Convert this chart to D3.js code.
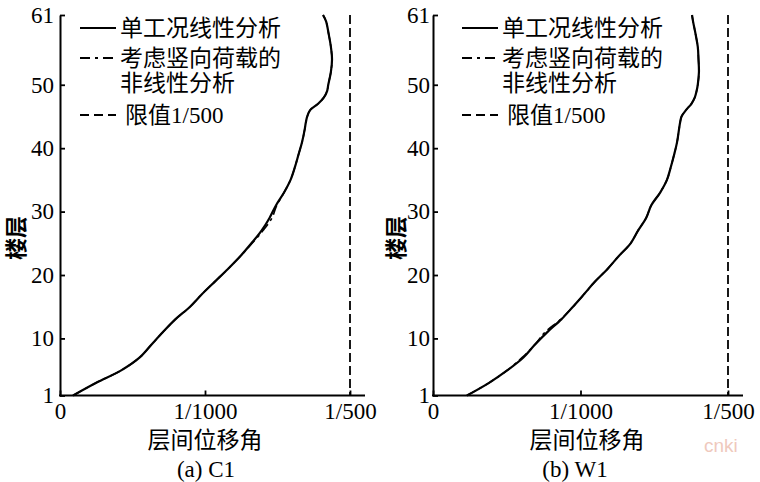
<!DOCTYPE html>
<html>
<head>
<meta charset="utf-8">
<script src="https://cdn.jsdelivr.net/npm/d3@7"></script>
<style>
  html, body { margin: 0; padding: 0; background: #fff; }
  svg { display: block; }
</style>
</head>
<body>
<svg id="chart" width="760" height="482"></svg>
<script>
// ---------- data (drift values in units of 1/1000) ----------
const floors = [1,3,5,7,9,11,13,15,17,19,21,23,25,27,29,31,33,35,37,39,41,43,44,45,46,47,48,49,50,52,54,56,58,60,61];

const c1Linear    = [0.09,0.25,0.425,0.55,0.63,0.71,0.795,0.897,0.98,1.07,1.16,1.245,1.32,1.39,1.445,1.49,1.545,1.59,1.62,1.645,1.67,1.688,1.695,1.705,1.725,1.78,1.82,1.842,1.85,1.868,1.876,1.868,1.853,1.835,1.814];
const c1Nonlinear = [0.09,0.25,0.425,0.55,0.63,0.71,0.795,0.897,0.98,1.07,1.16,1.245,1.325,1.40,1.462,1.495,1.545,1.59,1.62,1.645,1.67,1.688,1.695,1.705,1.725,1.78,1.82,1.842,1.85,1.868,1.876,1.868,1.853,1.835,1.814];

const w1Linear    = [0.23,0.38,0.505,0.613,0.69,0.775,0.87,0.949,1.025,1.10,1.185,1.26,1.34,1.39,1.445,1.48,1.54,1.586,1.612,1.635,1.655,1.668,1.675,1.685,1.715,1.752,1.775,1.787,1.795,1.803,1.80,1.795,1.78,1.763,1.756];
const w1Nonlinear = [0.23,0.38,0.505,0.605,0.69,0.76,0.865,0.949,1.025,1.10,1.185,1.26,1.34,1.39,1.445,1.48,1.54,1.586,1.612,1.635,1.655,1.668,1.675,1.685,1.715,1.752,1.775,1.787,1.795,1.803,1.80,1.795,1.78,1.763,1.756];

const xTickValues = [0, 1, 2];
const xTickLabels = ["0", "1/1000", "1/500"];
const yTickValues = [1, 10, 20, 30, 40, 50, 61];
const limitValue = 2; // 1/500
const legendLabels = ["单工况线性分析", ["考虑竖向荷载的", "非线性分析"], ["限值", "1/500"]];
const panelCaptions = ["(a) C1", "(b) W1"];
const xTitle = "层间位移角";
const yTitle = "楼层";

// ---------- layout ----------
const serif = "'Liberation Serif', 'Times New Roman', serif";
const cjk = "'Noto Sans CJK SC', sans-serif";

const panels = [
  { lin: c1Linear, non: c1Nonlinear, x0: 60,  x2: 350, xEnd: 365, yPad: 6, caption: panelCaptions[0], capX: 206, titleX: 205, yTitleX: 24, legX: 80 },
  { lin: w1Linear, non: w1Nonlinear, x0: 433, x2: 728, xEnd: 743, yPad: 3, caption: panelCaptions[1], capX: 575, titleX: 587, yTitleX: 404, legX: 462 }
];
const yBottom = 395.5, yTop = 15;

const svg = d3.select("#chart");

panels.forEach(p => {
  const g = svg.append("g");
  const x = d3.scaleLinear().domain([0, 2]).range([p.x0, p.x2]);
  const y = d3.scaleLinear().domain([1, 61]).range([yBottom, yTop]);

  // limit line
  g.append("line")
    .attr("x1", x(limitValue)).attr("x2", x(limitValue))
    .attr("y1", y(61)).attr("y2", yBottom)
    .attr("stroke", "#000").attr("stroke-width", 1.8)
    .attr("stroke-dasharray", "9,4");

  const line = d3.line()
    .x((d, i) => x(d))
    .y((d, i) => y(floors[i]))
    .curve(d3.curveCatmullRom.alpha(0.5));

  g.append("path").datum(p.non)
    .attr("d", line).attr("fill", "none")
    .attr("stroke", "#000").attr("stroke-width", 1.6)
    .attr("stroke-dasharray", "10,4,3,4");
  g.append("path").datum(p.lin)
    .attr("d", line).attr("fill", "none")
    .attr("stroke", "#000").attr("stroke-width", 2.2);

  // y axis
  const yAxis = d3.axisLeft(y).tickValues(yTickValues).tickSizeInner(-5).tickSizeOuter(0).tickPadding(p.yPad);
  const ya = g.append("g").attr("transform", `translate(${p.x0},0)`).call(yAxis);
  ya.select(".domain").attr("stroke-width", 2);
  ya.selectAll(".tick line").attr("stroke-width", 1.8);
  ya.selectAll(".tick text").attr("font-family", serif).attr("font-size", 23).attr("fill", "#000");

  // x axis
  const xAxis = d3.axisBottom(x).tickValues(xTickValues).tickFormat((d, i) => xTickLabels[i])
    .tickSizeInner(-5).tickSizeOuter(0).tickPadding(7);
  const xa = g.append("g").attr("transform", `translate(0,${yBottom})`).call(xAxis);
  xa.select(".domain").remove();
  xa.append("line").attr("x1", p.x0 - 1).attr("x2", p.xEnd).attr("y1", 0).attr("y2", 0)
    .attr("stroke", "#000").attr("stroke-width", 2);
  xa.selectAll(".tick line").attr("stroke-width", 1.8);
  xa.selectAll(".tick text").attr("font-family", serif).attr("font-size", 23).attr("fill", "#000");

  // titles
  g.append("text").attr("x", p.titleX).attr("y", 448)
    .attr("text-anchor", "middle").attr("font-family", cjk).attr("font-size", 23).text(xTitle);
  g.append("text").attr("x", p.capX).attr("y", 477)
    .attr("text-anchor", "middle").attr("font-family", serif).attr("font-size", 23).text(p.caption);
  g.append("text").attr("transform", `translate(${p.yTitleX},238) rotate(-90)`)
    .attr("text-anchor", "middle").attr("font-family", cjk).attr("font-size", 22)
    .attr("font-weight", "bold").text(yTitle);

  // legend
  const lg = g.append("g");
  const lx = p.legX, tx = p.legX + 40;
  lg.append("line").attr("x1", lx).attr("x2", lx + 36).attr("y1", 28).attr("y2", 28)
    .attr("stroke", "#000").attr("stroke-width", 1.8);
  lg.append("text").attr("x", tx).attr("y", 36).attr("font-family", cjk).attr("font-size", 23).text(legendLabels[0]);

  lg.append("line").attr("x1", lx).attr("x2", lx + 34).attr("y1", 58).attr("y2", 58)
    .attr("stroke", "#000").attr("stroke-width", 1.8).attr("stroke-dasharray", "10,5,3,5");
  lg.append("text").attr("x", tx).attr("y", 66).attr("font-family", cjk).attr("font-size", 23).text(legendLabels[1][0]);
  lg.append("text").attr("x", tx).attr("y", 91).attr("font-family", cjk).attr("font-size", 23).text(legendLabels[1][1]);

  lg.append("line").attr("x1", lx).attr("x2", lx + 36).attr("y1", 115).attr("y2", 115)
    .attr("stroke", "#000").attr("stroke-width", 1.8).attr("stroke-dasharray", "9,5");
  const t3 = lg.append("text").attr("x", tx + 5).attr("y", 123).attr("font-size", 23);
  t3.append("tspan").attr("font-family", cjk).text(legendLabels[2][0]);
  t3.append("tspan").attr("font-family", serif).attr("font-size", 23).text(legendLabels[2][1]);
});

// watermark
svg.append("text").attr("x", 704).attr("y", 452)
  .attr("font-family", "'Liberation Sans', Arial, sans-serif").attr("font-size", 19)
  .attr("fill", "#efc9bd").text("cnki");
</script>
</body>
</html>
